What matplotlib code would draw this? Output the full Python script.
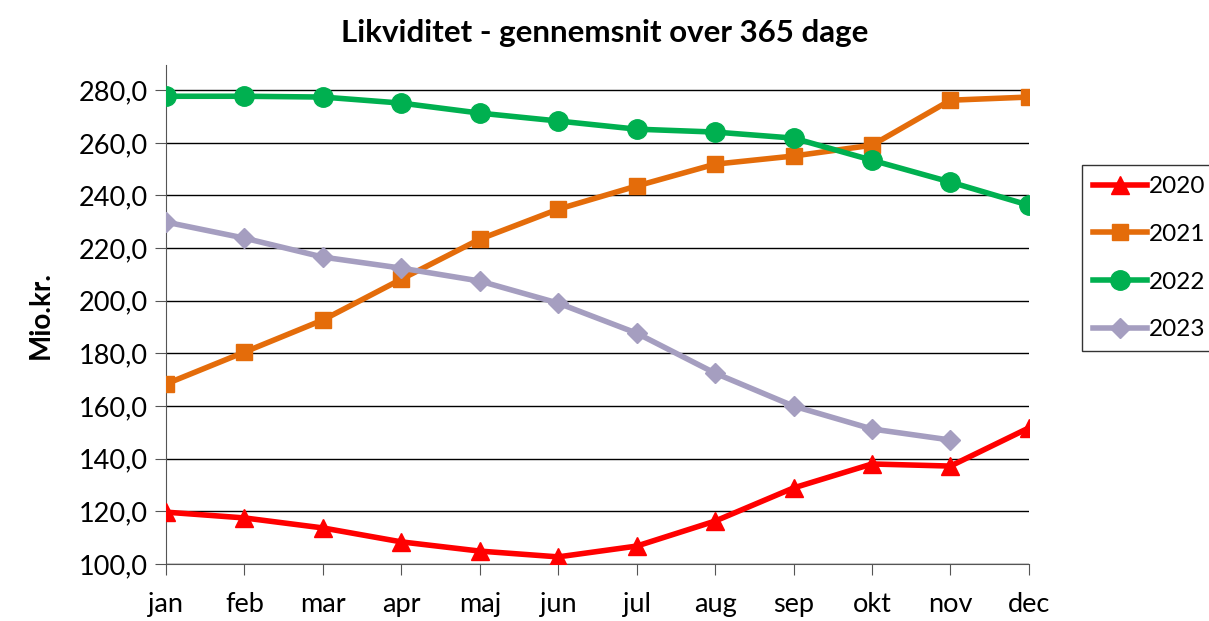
import matplotlib.pyplot as plt
import numpy as np

# Data
maaneder = ['jan', 'feb', 'mar', 'apr', 'maj', 'jun', 'jul', 'aug', 'sep', 'okt', 'nov', 'dec']
v2020 = [119.7, 117.5, 113.7, 108.4, 104.9, 102.7, 106.8, 116.3, 128.9, 138.0, 137.2, 151.7]
v2021 = [168.4, 180.5, 192.7, 208.2, 223.4, 234.8, 243.6, 251.9, 255.0, 259.1, 276.2, 277.4]
v2022 = [277.7, 277.7, 277.4, 275.1, 271.3, 268.3, 265.2, 264.1, 261.8, 253.4, 245.1, 236.3]
v2023 = [229.9, 223.8, 216.6, 212.4, 207.5, 199.1, 187.7, 172.5, 160.0, 151.3, 147.1]

plt.rcParams['font.family'] = ['Lato', 'DejaVu Sans']

fig = plt.figure(figsize=(12.09, 6.21), dpi=100)
ax = fig.add_axes([0.1373, 0.0918, 0.7137, 0.8032])

x = np.arange(len(maaneder))
lw = 4
ax.plot(x, v2020, color='#ff0000', lw=lw, marker='^', ms=13, label='2020', zorder=3)
ax.plot(x, v2021, color='#e46c0a', lw=lw, marker='s', ms=12, label='2021', zorder=3)
ax.plot(x, v2022, color='#00b050', lw=lw, marker='o', ms=14, label='2022', zorder=3)
ax.plot(x[:len(v2023)], v2023, color='#a59ec0', lw=lw, marker='D', ms=10, label='2023', zorder=3)

ax.set_xlim(0, 11)
ax.set_ylim(100, 289.5)
ax.set_yticks(np.arange(100, 281, 20))
ax.set_yticklabels([f'{v:.1f}'.replace('.', ',') for v in np.arange(100, 281, 20)])
ax.set_xticks(x)
ax.set_xticklabels(maaneder)
ax.yaxis.grid(True, color='black', lw=1)
ax.set_axisbelow(True)
ax.tick_params(axis='both', labelsize=19.5, length=8, color='#555555')
ax.tick_params(axis='x', pad=12)
ax.tick_params(axis='y', pad=5)
for s in ['top', 'right']:
    ax.spines[s].set_visible(False)
ax.spines['left'].set_color('#555555')
ax.spines['bottom'].set_color('#555555')

ax.set_ylabel('Mio.kr.', fontsize=20, fontweight='bold', labelpad=18)
fig.suptitle('Likviditet - gennemsnit over 365 dage', fontsize=22.5, fontweight='bold', y=0.97)

leg = ax.legend(loc='center left', bbox_to_anchor=(1.062, 0.613), fontsize=17.5, frameon=True,
                fancybox=False, edgecolor='black', handlelength=2.2, labelspacing=1.1,
                borderpad=0.45, handletextpad=0.1, borderaxespad=0)
leg.get_frame().set_linewidth(1)

fig.savefig('out.png', dpi=100)
